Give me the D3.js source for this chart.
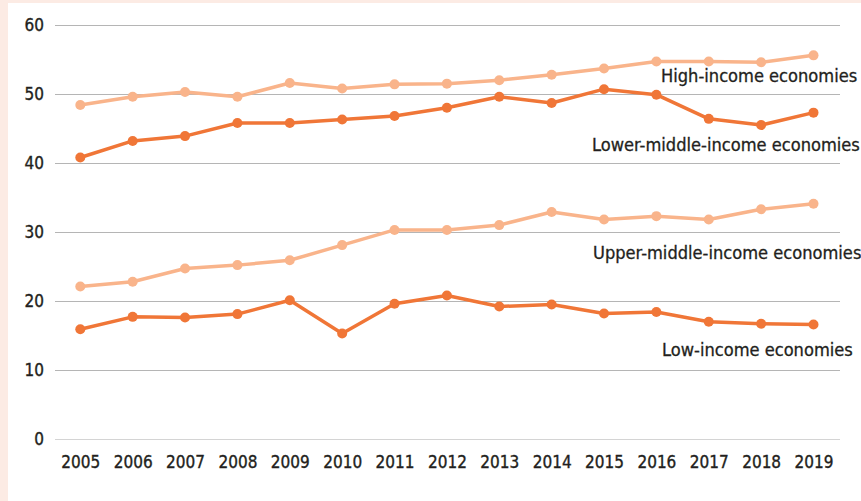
<!DOCTYPE html>
<html>
<head>
<meta charset="utf-8">
<script src="https://cdn.jsdelivr.net/npm/d3@7"></script>
<style>
  html, body { margin: 0; padding: 0; background: #fcebe4; }
  svg { display: block; }
  text { font-family: "Liberation Sans Narrow", "DejaVu Sans Condensed", "Roboto", sans-serif; fill: #231f20; }
</style>
</head>
<body>
<svg id="chart" width="861" height="501"></svg>
<script>
const years = [2005,2006,2007,2008,2009,2010,2011,2012,2013,2014,2015,2016,2017,2018,2019];
const highIncome   = [48.4,49.6,50.3,49.6,51.6,50.8,51.4,51.5,52.0,52.8,53.7,54.7,54.7,54.6,55.6];
const lowerMiddle  = [40.8,43.2,43.9,45.8,45.8,46.3,46.8,48.0,49.6,48.7,50.7,49.9,46.4,45.5,47.3];
const upperMiddle  = [22.1,22.8,24.7,25.2,25.9,28.1,30.3,30.3,31.0,32.9,31.8,32.3,31.8,33.3,34.1];
const lowIncome    = [15.9,17.7,17.6,18.1,20.1,15.3,19.6,20.8,19.2,19.5,18.2,18.4,17.0,16.7,16.6];
const yTicks = [0,10,20,30,40,50,60];
const seriesNames = ["High-income economies","Lower-middle-income economies","Upper-middle-income economies","Low-income economies"];

const series = [
  {name: seriesNames[0], values: highIncome,  color: "#f9b48b", lx: 661, ly: 82},
  {name: seriesNames[1], values: lowerMiddle, color: "#f07637", lx: 592, ly: 151},
  {name: seriesNames[2], values: upperMiddle, color: "#f9b48b", lx: 593, ly: 259},
  {name: seriesNames[3], values: lowIncome,   color: "#f07637", lx: 662, ly: 356}
];

const svg = d3.select("#chart");
svg.append("rect").attr("x", 8).attr("y", 3).attr("width", 853).attr("height", 498).attr("fill", "#ffffff");

const gridLeft = 55, gridRight = 840;
const y = d3.scaleLinear().domain([0, 60]).range([439, 25]);
const x = d3.scalePoint().domain(years).range([80.3, 813.5]);

const yAxis = d3.axisLeft(y).tickValues(yTicks).tickSize(-(gridRight - gridLeft)).tickPadding(11).tickFormat(d3.format("d"));
const gy = svg.append("g").attr("transform", `translate(${gridLeft},0)`).call(yAxis);
gy.select(".domain").remove();
gy.selectAll(".tick line").attr("stroke", d => d === 0 ? "#d4d4d4" : "#b5b5b5").attr("stroke-width", 1);
gy.selectAll(".tick text").attr("font-size", 17).attr("fill", "#231f20")
  .attr("stroke", "#231f20").attr("stroke-width", 0.35);

const xAxis = d3.axisBottom(x).tickSize(0).tickPadding(17).tickFormat(d3.format("d"));
const gx = svg.append("g").attr("transform", `translate(0,439)`).call(xAxis);
gx.select(".domain").remove();
gx.selectAll(".tick text").attr("font-size", 17).attr("fill", "#231f20")
  .attr("stroke", "#231f20").attr("stroke-width", 0.35);
svg.selectAll("g").attr("font-family", null);

const line = d3.line().x((d, i) => x(years[i])).y(d => y(d));

series.forEach(s => {
  svg.append("path").datum(s.values).attr("d", line)
    .attr("fill", "none").attr("stroke", s.color).attr("stroke-width", 3.5).attr("stroke-linejoin", "round");
  svg.append("g").selectAll("circle").data(s.values).join("circle")
    .attr("cx", (d, i) => x(years[i])).attr("cy", d => y(d)).attr("r", 5).attr("fill", s.color);
  svg.append("text").attr("x", s.lx).attr("y", s.ly).attr("font-size", 18.1)
    .attr("stroke", "#231f20").attr("stroke-width", 0.3).text(s.name);
});
</script>
</body>
</html>
